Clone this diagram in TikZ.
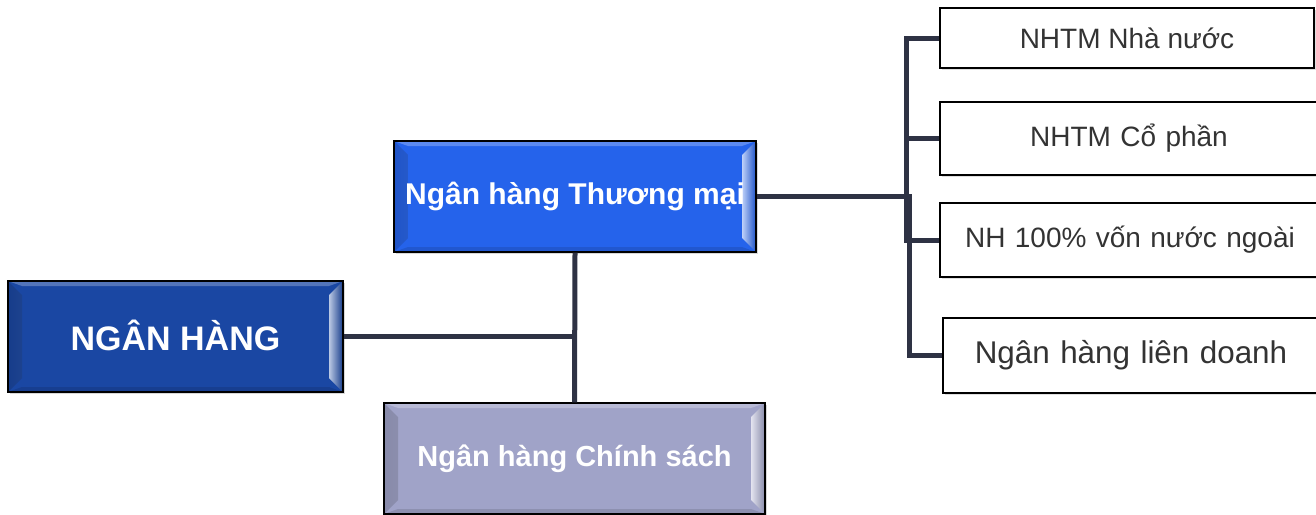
\documentclass[tikz,border=0pt]{standalone}
\usepackage{fontspec}
\setmainfont{Liberation Sans}
\usetikzlibrary{shadows}
\definecolor{nhblue}{RGB}{26,71,163}
\definecolor{tmblue}{RGB}{37,99,235}
\definecolor{cslav}{RGB}{160,163,200}
\definecolor{linec}{RGB}{46,50,68}
\definecolor{txtc}{RGB}{51,51,51}
\tikzset{
  bevelbox/.style={draw=black, line width=1.3pt, fill=#1, text=white,
    font=\bfseries, inner sep=0pt,
    drop shadow={shadow xshift=1.5pt, shadow yshift=-1.5pt, opacity=0.3},
    path picture={
      \shade[left color=#1!85!black, right color=#1!30!white]
        (path picture bounding box.north west)
        -- ([shift={(14pt,-14pt)}]path picture bounding box.north west)
        -- ([shift={(14pt,14pt)}]path picture bounding box.south west)
        -- (path picture bounding box.south west) -- cycle;
      \shade[right color=#1!85!black, left color=#1!30!white]
        (path picture bounding box.north east)
        -- ([shift={(-14pt,-14pt)}]path picture bounding box.north east)
        -- ([shift={(-14pt,14pt)}]path picture bounding box.south east)
        -- (path picture bounding box.south east) -- cycle;
      \fill[#1!75!white]
        (path picture bounding box.north west)
        -- (path picture bounding box.north east)
        -- ([shift={(-14pt,-5pt)}]path picture bounding box.north east)
        -- ([shift={(14pt,-5pt)}]path picture bounding box.north west) -- cycle;
      \fill[#1!88!black]
        (path picture bounding box.south west)
        -- (path picture bounding box.south east)
        -- ([shift={(-14pt,5pt)}]path picture bounding box.south east)
        -- ([shift={(14pt,5pt)}]path picture bounding box.south west) -- cycle;
    }},
  leafbox/.style={draw=black, line width=1.3pt, fill=white, text=txtc,
    inner sep=0pt, font=\fontsize{28}{32}\selectfont,
    drop shadow={shadow xshift=1.5pt, shadow yshift=-1.5pt, opacity=0.25}},
  conn/.style={draw=linec, line width=5pt}
}
\begin{document}
\begin{tikzpicture}[x=1pt,y=-1pt]
\clip (0,0) rectangle (1316,514);
\fill[white] (0,0) rectangle (1316,514);

\node[bevelbox=nhblue, minimum width=335pt, minimum height=111pt,
      font=\fontsize{34}{40}\bfseries\selectfont] (NH) at (175.5,336.5) {\raisebox{3pt}{NGÂN HÀNG}};
\node[bevelbox=tmblue, minimum width=362pt, minimum height=111pt,
      font=\fontsize{30}{36}\bfseries\selectfont] (TM) at (575,196.5) {Ngân hàng Thương mại};
\node[bevelbox=cslav, minimum width=381pt, minimum height=111pt,
      font=\fontsize{29}{34}\bfseries\selectfont] (CS) at (574.5,458.5) {Ngân hàng Chính sách};

\node[leafbox, minimum width=374pt, minimum height=60pt] (B1) at (1127,38) {NHTM Nhà nước};
\node[leafbox, minimum width=384pt, minimum height=73pt, text width=374pt, align=center] (B2) at (1132,138.5) {\hspace*{-6pt}NHTM Cổ phần};
\node[leafbox, minimum width=384pt, minimum height=74pt, text width=374pt, align=center] (B3) at (1132,240) {\hspace*{-4pt}NH 100\% vốn nước ngoài};
\node[leafbox, minimum width=381pt, minimum height=75pt, text width=371pt, align=center,
      font=\fontsize{31.4}{36}\selectfont] (B4) at (1133.5,355.5) {\hspace*{-5pt}Ngân hàng liên doanh};

\coordinate (ta) at (906,0);
\coordinate (tb) at (909,0);
\coordinate (jm) at (575,336.5);

\draw[conn] (NH.east) -- (jm);
\draw[conn] (TM.south) -- (CS.north);
\draw[conn] (B1.west) -- (B1.west -| ta) -- (B3.west -| ta) -- (B3.west);
\draw[conn] (B2.west) -- (B2.west -| ta);
\draw[conn] (TM.east) -- (TM.east -| tb) -- (B4.west -| tb) -- (B4.west);
\end{tikzpicture}
\end{document}
